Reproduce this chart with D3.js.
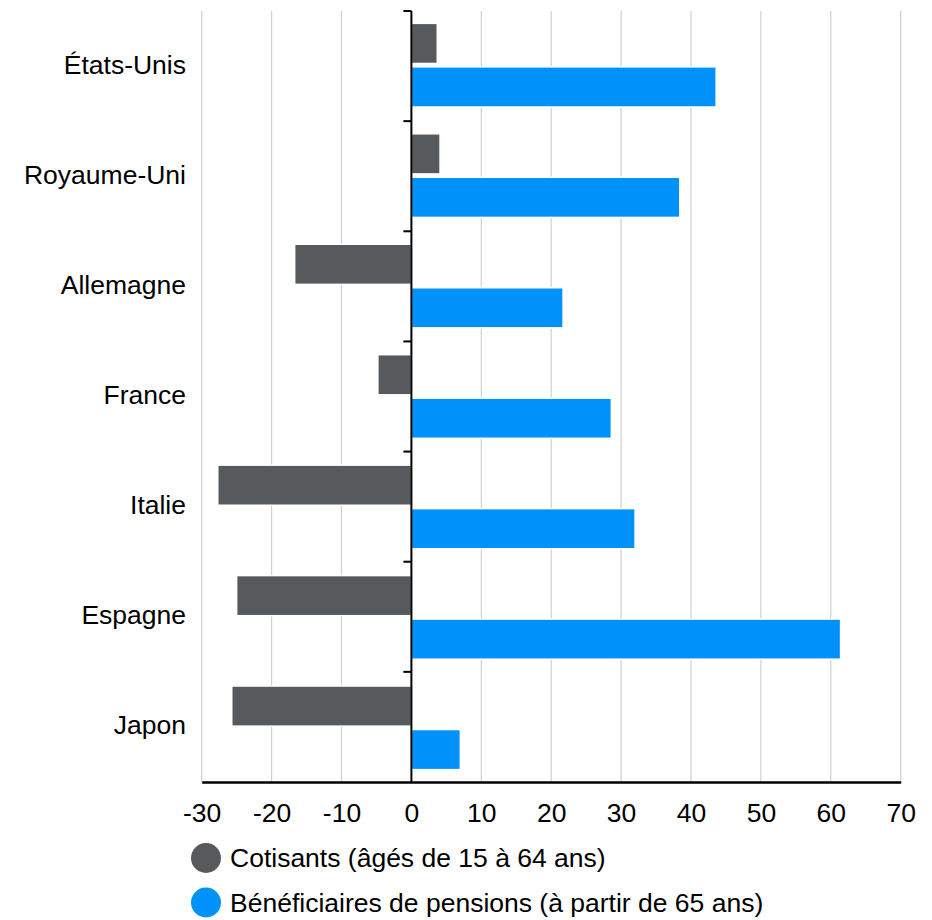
<!DOCTYPE html>
<html>
<head>
<meta charset="utf-8">
<script src="https://cdn.jsdelivr.net/npm/d3@7"></script>
<style>
html,body{margin:0;padding:0;background:#fff;}
svg{display:block;font-family:"Liberation Sans",Arial,Helvetica,sans-serif;}
</style>
</head>
<body>
<svg id="chart" width="932" height="920"></svg>
<script>
const countries = ["États-Unis","Royaume-Uni","Allemagne","France","Italie","Espagne","Japon"];
const cotisants = [3.7, 4.1, -16.7, -4.8, -27.7, -25.0, -25.7];
const beneficiaires = [43.6, 38.4, 21.7, 28.6, 32.0, 61.4, 7.0];
const xTicks = [-30,-20,-10,0,10,20,30,40,50,60,70];
const seriesNames = ["Cotisants (âgés de 15 à 64 ans)","Bénéficiaires de pensions (à partir de 65 ans)"];
const seriesColors = ["#575a5d","#0092fa"];

(function(){
const svg = d3.select("#chart");
const pLeft = 201.7, pRight = 900.7, pTop = 11, pBottom = 782;
const fs = 26.5;

const x = d3.scaleLinear().domain([-30,70]).range([pLeft,pRight]);
const y = d3.scaleBand().domain(countries).range([pTop,pBottom]).paddingInner(0.243).paddingOuter(0.112);
const sub = d3.scaleBand().domain([0,1]).range([0,y.bandwidth()]).paddingInner(0.078);

// gridlines
svg.append("g").selectAll("line").data(xTicks.filter(d=>d!==0)).join("line")
  .attr("x1",d=>x(d)).attr("x2",d=>x(d)).attr("y1",pTop).attr("y2",pBottom)
  .attr("stroke","#d0d0d0").attr("stroke-width",1.2);

// bars
const data = countries.map((c,i)=>({c, vals:[cotisants[i], beneficiaires[i]]}));
const g = svg.append("g");
data.forEach(d=>{
  d.vals.forEach((v,k)=>{
    g.append("rect")
      .attr("x", x(Math.min(0,v)))
      .attr("width", Math.abs(x(v)-x(0)))
      .attr("y", y(d.c)+sub(k))
      .attr("height", sub.bandwidth())
      .attr("fill", seriesColors[k])
      .attr("stroke","#fff").attr("stroke-width",1.5);
  });
});

// y axis line and ticks at band boundaries
const step = (pBottom-pTop)/countries.length;
svg.append("line").attr("x1",x(0)).attr("x2",x(0)).attr("y1",pTop).attr("y2",pBottom)
  .attr("stroke","#000").attr("stroke-width",2);
svg.append("g").selectAll("line").data(d3.range(countries.length)).join("line")
  .attr("x1",x(0)-8).attr("x2",x(0)).attr("y1",i=>pTop+i*step).attr("y2",i=>pTop+i*step)
  .attr("stroke","#000").attr("stroke-width",2);

// category labels
svg.append("g").selectAll("text").data(countries).join("text")
  .attr("x",186).attr("y",(d,i)=>pTop+i*step+step/2-1.5)
  .attr("text-anchor","end").attr("dominant-baseline","central")
  .attr("font-size",fs).attr("fill","#000").text(d=>d);

// x axis
const xAxis = svg.append("g").attr("transform",`translate(0,${pBottom})`)
  .call(d3.axisBottom(x).tickValues(xTicks).tickSize(0).tickPadding(21).tickFormat(d=>String(d)));
xAxis.select(".domain").attr("stroke","#000").attr("stroke-width",2.5);
xAxis.selectAll("text").attr("font-size",fs).attr("fill","#000")
  .attr("font-family","'Liberation Sans',Arial,sans-serif");

// legend
const legend = svg.append("g");
seriesNames.forEach((n,i)=>{
  const cy = 858 + i*44.5;
  legend.append("circle").attr("cx",206).attr("cy",cy).attr("r",15).attr("fill",seriesColors[i]);
  legend.append("text").attr("x",230).attr("y",cy).attr("dominant-baseline","central")
    .attr("font-size",fs).attr("fill","#000").text(n);
});
})();
</script>
</body>
</html>
